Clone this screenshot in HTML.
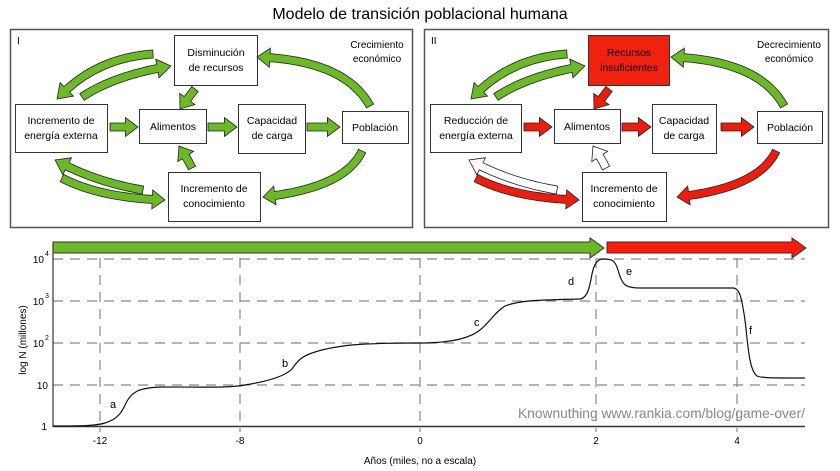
<!DOCTYPE html>
<html><head><meta charset="utf-8">
<style>
html,body{margin:0;padding:0;background:#fff;}
svg{display:block;font-family:"Liberation Sans",sans-serif;}
</style></head>
<body>
<svg id="s" width="840" height="471" viewBox="0 0 840 471" xmlns="http://www.w3.org/2000/svg">
<text x="420" y="19" font-size="16" text-anchor="middle">Modelo de transición poblacional humana</text>
<rect x="10.5" y="29.5" width="402" height="198" fill="none" stroke="#555" stroke-width="1.5"/>
<rect x="424.5" y="29.5" width="404" height="198" fill="none" stroke="#555" stroke-width="1.5"/>
<g font-size="10" stroke="none">
<text x="17" y="44">I</text>
<text x="377" y="48" text-anchor="middle">Crecimiento</text>
<text x="377" y="62" text-anchor="middle">económico</text>
<text x="431" y="44">II</text>
<text x="789" y="48" text-anchor="middle">Decrecimiento</text>
<text x="789" y="62" text-anchor="middle">económico</text>
</g>
<g id="boxes" fill="#fff" stroke="#333" stroke-width="1">
<rect x="174.5" y="35.5" width="83" height="50"/>
<rect x="15.5" y="104.5" width="92" height="48"/>
<rect x="139.5" y="109.5" width="67" height="34"/>
<rect x="238.5" y="104.5" width="67" height="49"/>
<rect x="342.5" y="111.5" width="66" height="32"/>
<rect x="168.5" y="172.5" width="92" height="49"/>
<rect x="588.5" y="35.5" width="81" height="50" fill="#f0210f"/>
<rect x="430.5" y="104.5" width="91" height="48"/>
<rect x="554.5" y="109.5" width="66" height="34"/>
<rect x="652.5" y="104.5" width="64" height="49"/>
<rect x="757.5" y="111.5" width="65" height="32"/>
<rect x="582.5" y="172.5" width="84" height="49"/>
</g>
<g font-size="10.5" text-anchor="middle">
<text x="216" y="56">Disminución</text><text x="216" y="71">de recursos</text>
<text x="61" y="124">Incremento de</text><text x="61" y="139">energía externa</text>
<text x="173" y="130">Alimentos</text>
<text x="272" y="124">Capacidad</text><text x="272" y="139">de carga</text>
<text x="375" y="131">Población</text>
<text x="214" y="192">Incremento de</text><text x="214" y="207">conocimiento</text>
<text x="629" y="56">Recursos</text><text x="629" y="71">insuficientes</text>
<text x="476" y="124">Reducción de</text><text x="476" y="139">energía externa</text>
<text x="587" y="130">Alimentos</text>
<text x="684" y="124">Capacidad</text><text x="684" y="139">de carga</text>
<text x="790" y="131">Población</text>
<text x="624" y="192">Incremento de</text><text x="624" y="207">conocimiento</text>
</g>
<g id="arrows"></g>
<g stroke="#888" stroke-width="1.2" stroke-dasharray="10,7" fill="none">
<line x1="53" y1="259" x2="805" y2="259"/>
<line x1="53" y1="301" x2="805" y2="301"/>
<line x1="53" y1="343" x2="805" y2="343"/>
<line x1="53" y1="385" x2="805" y2="385"/>
<line x1="100" y1="258" x2="100" y2="432"/>
<line x1="240" y1="258" x2="240" y2="432"/>
<line x1="420" y1="258" x2="420" y2="432"/>
<line x1="596" y1="258" x2="596" y2="432"/>
<line x1="737" y1="258" x2="737" y2="432"/>
</g>
<line x1="53" y1="244" x2="53" y2="427" stroke="#333" stroke-width="1.2"/>
<line x1="53" y1="426.5" x2="805" y2="426.5" stroke="#333" stroke-width="1.5"/>
<text x="518" y="418" font-size="14" fill="#888" textLength="287" lengthAdjust="spacingAndGlyphs">Knownuthing www.rankia.com/blog/game-over/</text>
<path d="M53,426 C80,426 95,426 105,423 C118,419 122,412 126,403 C132,391 140,388 160,387 C200,387 230,388 245,385 C270,381 285,376 292,369 C298,360 302,356 315,352 C340,344 370,343 420,343 C450,343 470,338 480,330 C490,322 495,312 505,306 C520,300 540,300 580,299 C588,298 590,285 592,274 C594,264 598,259 603,259 C612,259 615,260 618,270 C622,285 625,288 640,288 L733,288 C740,288 742,300 745,320 C748,345 749,370 757,376 C762,378 770,378 805,378" fill="none" stroke="#111" stroke-width="1.2"/>
<g font-size="11">
<text x="110" y="408">a</text><text x="282" y="367">b</text><text x="474" y="326">c</text>
<text x="568" y="285">d</text><text x="626" y="275">e</text><text x="749" y="334">f</text>
</g>
<g font-size="10" text-anchor="end">
<text x="47" y="430">1</text>
<text x="48" y="389">10</text>
<text x="44" y="347">10</text><text x="45" y="340" font-size="7" text-anchor="start">2</text>
<text x="44" y="305">10</text><text x="45" y="298" font-size="7" text-anchor="start">3</text>
<text x="44" y="263">10</text><text x="45" y="256" font-size="7" text-anchor="start">4</text>
</g>
<g font-size="10" text-anchor="middle">
<text x="100" y="444">-12</text><text x="240" y="444">-8</text><text x="420" y="444">0</text>
<text x="596" y="444">2</text><text x="737" y="444">4</text>
<text x="420" y="464">Años (miles, no a escala)</text>
<text transform="translate(26,340) rotate(-90)">log N (millones)</text>
</g>
<polygon points="53,242 590,242 590,238 604,248 590,258 590,253 53,253" fill="#6ab925" stroke="#333" stroke-width="1"/>
<polygon points="607,242 792,242 792,238 806,248 792,258 792,253 607,253" fill="#ff1a0a" stroke="#333" stroke-width="1"/>
</svg>
<script>
(function(){
var G="#6ab925",R="#ee1c0c",W="#ffffff";
var g=document.getElementById("arrows");
function arrow(p0,c,p1,fill,sw,hw,hl){
 sw=sw||4;hw=hw||9.5;hl=hl||12;
 var pts=[];
 for(var i=0;i<=40;i++){var t=i/40,u=1-t;
  pts.push([u*u*p0[0]+2*u*t*c[0]+t*t*p1[0],u*u*p0[1]+2*u*t*c[1]+t*t*p1[1]]);}
 var keep=pts.filter(function(p){return Math.hypot(p[0]-p1[0],p[1]-p1[1])>hl;});
 if(keep.length<2)keep=[p0,keep[0]||p0];
 var L=[],Rr=[];
 for(var i=0;i<keep.length;i++){
  var a=keep[Math.max(0,i-1)],b=keep[Math.min(keep.length-1,i+1)];
  if(i==keep.length-1){a=keep[i];b=p1;}
  var dx=b[0]-a[0],dy=b[1]-a[1],d=Math.hypot(dx,dy)||1;
  var nx=-dy/d,ny=dx/d;
  L.push([keep[i][0]+nx*sw,keep[i][1]+ny*sw]);Rr.push([keep[i][0]-nx*sw,keep[i][1]-ny*sw]);
 }
 var e=keep[keep.length-1],dx=p1[0]-e[0],dy=p1[1]-e[1],d=Math.hypot(dx,dy)||1,nx=-dy/d,ny=dx/d;
 var poly=L.concat([[e[0]+nx*hw,e[1]+ny*hw],p1,[e[0]-nx*hw,e[1]-ny*hw]]).concat(Rr.reverse());
 var el=document.createElementNS("http://www.w3.org/2000/svg","polygon");
 el.setAttribute("points",poly.map(function(p){return p[0].toFixed(1)+","+p[1].toFixed(1);}).join(" "));
 el.setAttribute("fill",fill);el.setAttribute("stroke","#222");el.setAttribute("stroke-width","0.8");
 g.appendChild(el);
}
function panel(o,c){
 var s=function(p){return [p[0]+o,p[1]];};
 arrow(s([153,54]),s([95,58]),s([57,99]),c[0]);
 arrow(s([82,97]),s([115,75]),s([171,66]),c[1]);
 arrow(s([370,106]),s([345,60]),s([257,57]),c[2]);
 arrow(s([195,89]),s([188,98]),s([180,109]),c[3]);
 arrow(s([110,127]),s([124,127]),s([138,127]),c[4]);
 arrow(s([208,127]),s([222,127]),s([237,127]),c[4]);
 arrow(s([307,127]),s([323,127]),s([340,127]),c[4]);
 arrow(s([362,151]),s([345,188]),s([263,197]),c[5]);
 arrow(s([143,190]),s([95,182]),s([55,160]),c[6]);
 arrow(s([62,178]),s([100,198]),s([165,200]),c[7]);
 arrow(s([192,168]),s([186,156]),s([179,146]),c[8]);
}
panel(0,[G,G,G,G,G,G,G,G,G]);
panel(414,[G,G,G,R,R,R,W,R,W]);
})();
</script>
</body></html>
